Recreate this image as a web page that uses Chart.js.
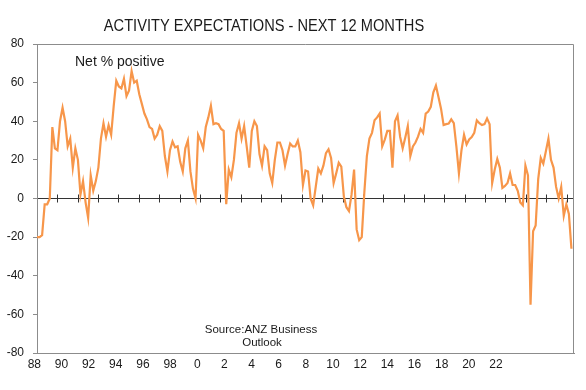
<!DOCTYPE html>
<html>
<head>
<meta charset="utf-8">
<script src="https://cdn.jsdelivr.net/npm/chart.js@4.4.0/dist/chart.umd.min.js"></script>
<style>
    html, body { margin: 0; padding: 0; background: #fff; }
    #wrap { width: 586px; height: 390px; }
</style>
</head>
<body>
<div id="wrap"><canvas id="myChart"></canvas></div>
<script>
// ANZ Business Outlook, activity expectations (net % positive), read every 2 months from Jan 1988
const stepMonths = 2;
const netPositive = [
    -20, -20, -19, -3, -3, 0, 37, 26, 25, 40,
    47, 40, 27, 31, 16, 26, 20, 2, 9, -2,
    -10, 12, 4, 9, 16, 31, 39, 32, 38, 33,
    48, 61, 58, 57, 62, 53, 56, 66, 60, 61,
    54, 49, 44, 41, 37, 36, 31, 33, 37.5, 35,
    22, 14, 25, 29.5, 26.5, 27, 19, 14, 26, 30,
    14, 5, 0, 33, 30, 26, 37, 42, 48, 38.5,
    39, 38.5, 36, 35, -3, 15, 11, 20, 34, 39,
    31, 37.5, 27, 16, 35, 40, 37.5, 23, 17, 27,
    25, 13, 8, 20, 29, 29, 25, 17, 23, 28.5,
    27, 27, 30, 24, 7, 14.5, 14, 0, -3.5, 6,
    15.5, 13, 17, 23.5, 25.5, 21, 8, 13, 18.5, 16.5,
    1, -4.5, -6.5, 2, 15, -16, -21.6, -20, 3, 22,
    31, 34, 40.5, 42, 44, 27, 30.5, 35, 35, 16,
    40, 43, 32, 26, 31.5, 37.5, 22, 27, 29, 32,
    36, 34, 44, 45, 47.5, 55, 58.5, 52.5, 46.5, 38,
    38.5, 38.8, 41, 39, 27, 13, 25, 33, 28, 30.6,
    31.8, 34, 40.5, 39, 38, 38.5, 41.5, 38.5, 8, 15,
    20.5, 16, 5.5, 6.5, 8, 13, 7, 7, 4, -2,
    -3.5, 17, 12, -55, -17, -14, 10, 21, 18, 24.5,
    31, 20, 16, 6, 0, 6, -9, -3, -8, -26
];
const yearLabels = ['88', '90', '92', '94', '96', '98', '0', '2', '4', '6',
                    '8', '10', '12', '14', '16', '18', '20', '22'];
const labelStepMonths = 21.24;   // spacing of the year labels on the original axis
const markStepMonths  = 15.93;   // spacing of the small marks on the zero line
const lastMonth       = 420;

const points = netPositive.map((v, i) => ({ x: i * stepMonths, y: v }));

const zeroMarks = {
    id: 'zeroMarks',
    beforeDatasetsDraw(chart) {
        const { ctx, chartArea, scales } = chart;
        const y0 = scales.y.getPixelForValue(0);
        ctx.save();
        // frame on the top and right side
        ctx.strokeStyle = '#8c8c8c';
        ctx.lineWidth = 1;
        ctx.beginPath();
        ctx.moveTo(chartArea.left, chartArea.top + 0.5);
        ctx.lineTo(chartArea.right - 0.5, chartArea.top + 0.5);
        ctx.lineTo(chartArea.right - 0.5, chartArea.bottom);
        ctx.stroke();
        // marks crossing the zero line
        ctx.strokeStyle = '#333';
        ctx.beginPath();
        for (let m = markStepMonths; m < lastMonth; m += markStepMonths) {
            const x = Math.round(scales.x.getPixelForValue(m)) + 0.5;
            ctx.moveTo(x, y0 - 4);
            ctx.lineTo(x, y0 + 4);
        }
        ctx.stroke();
        ctx.restore();
    }
};

const notes = {
    id: 'notes',
    afterDraw(chart) {
        const ctx = chart.ctx;
        ctx.save();
        ctx.fillStyle = '#1a1a1a';
        ctx.textBaseline = 'alphabetic';
        // title is narrower and taller in the original
        ctx.save();
        ctx.translate(264, 31);
        ctx.scale(0.86, 1);
        ctx.textAlign = 'center';
        ctx.font = '17px "Liberation Sans", Arial, sans-serif';
        ctx.fillText('ACTIVITY EXPECTATIONS - NEXT 12 MONTHS', 0, 0);
        ctx.restore();
        ctx.textAlign = 'left';
        ctx.font = '14px "Liberation Sans", Arial, sans-serif';
        ctx.fillText('Net % positive', 75, 66);
        ctx.textAlign = 'center';
        ctx.font = '11.5px "Liberation Sans", Arial, sans-serif';
        ctx.fillText('Source:ANZ Business', 261, 333);
        ctx.fillText('Outlook', 262, 346);
        ctx.restore();
    }
};

new Chart(document.getElementById('myChart'), {
    type: 'line',
    data: {
        datasets: [{
            data: points,
            borderColor: '#F7964A',
            borderWidth: 2.2,
            pointRadius: 0,
            tension: 0,
            fill: false
        }]
    },
    options: {
        responsive: true,
        maintainAspectRatio: false,
        animation: false,
        events: [],
        layout: { padding: { top: 44, right: 12, left: 0, bottom: 0 } },
        plugins: {
            legend: { display: false },
            tooltip: { enabled: false }
        },
        scales: {
            x: {
                type: 'linear',
                min: 0,
                max: lastMonth,
                afterFit: (scale) => { scale.height = 37; },
                afterBuildTicks: (scale) => {
                    scale.ticks = yearLabels.map((_, i) => ({ value: i * labelStepMonths }));
                },
                border: { color: '#8c8c8c' },
                grid: { display: false, drawTicks: false },
                ticks: {
                    autoSkip: false,
                    maxRotation: 0,
                    padding: 4,
                    labelOffset: -2.7,
                    color: '#1a1a1a',
                    font: { family: '"Liberation Sans", Arial, sans-serif', size: 12 },
                    callback: (value, index) => yearLabels[index]
                }
            },
            y: {
                min: -80,
                max: 80,
                afterFit: (scale) => { scale.width = 37; },
                border: { color: '#8c8c8c' },
                grid: {
                    color: (c) => c.tick.value === 0 ? '#333' : 'rgba(0,0,0,0)',
                    tickColor: '#8c8c8c',
                    tickLength: 4
                },
                ticks: {
                    stepSize: 20,
                    padding: 9,
                    color: '#1a1a1a',
                    font: { family: '"Liberation Sans", Arial, sans-serif', size: 12 }
                }
            }
        }
    },
    plugins: [zeroMarks, notes]
});
</script>
</body>
</html>
